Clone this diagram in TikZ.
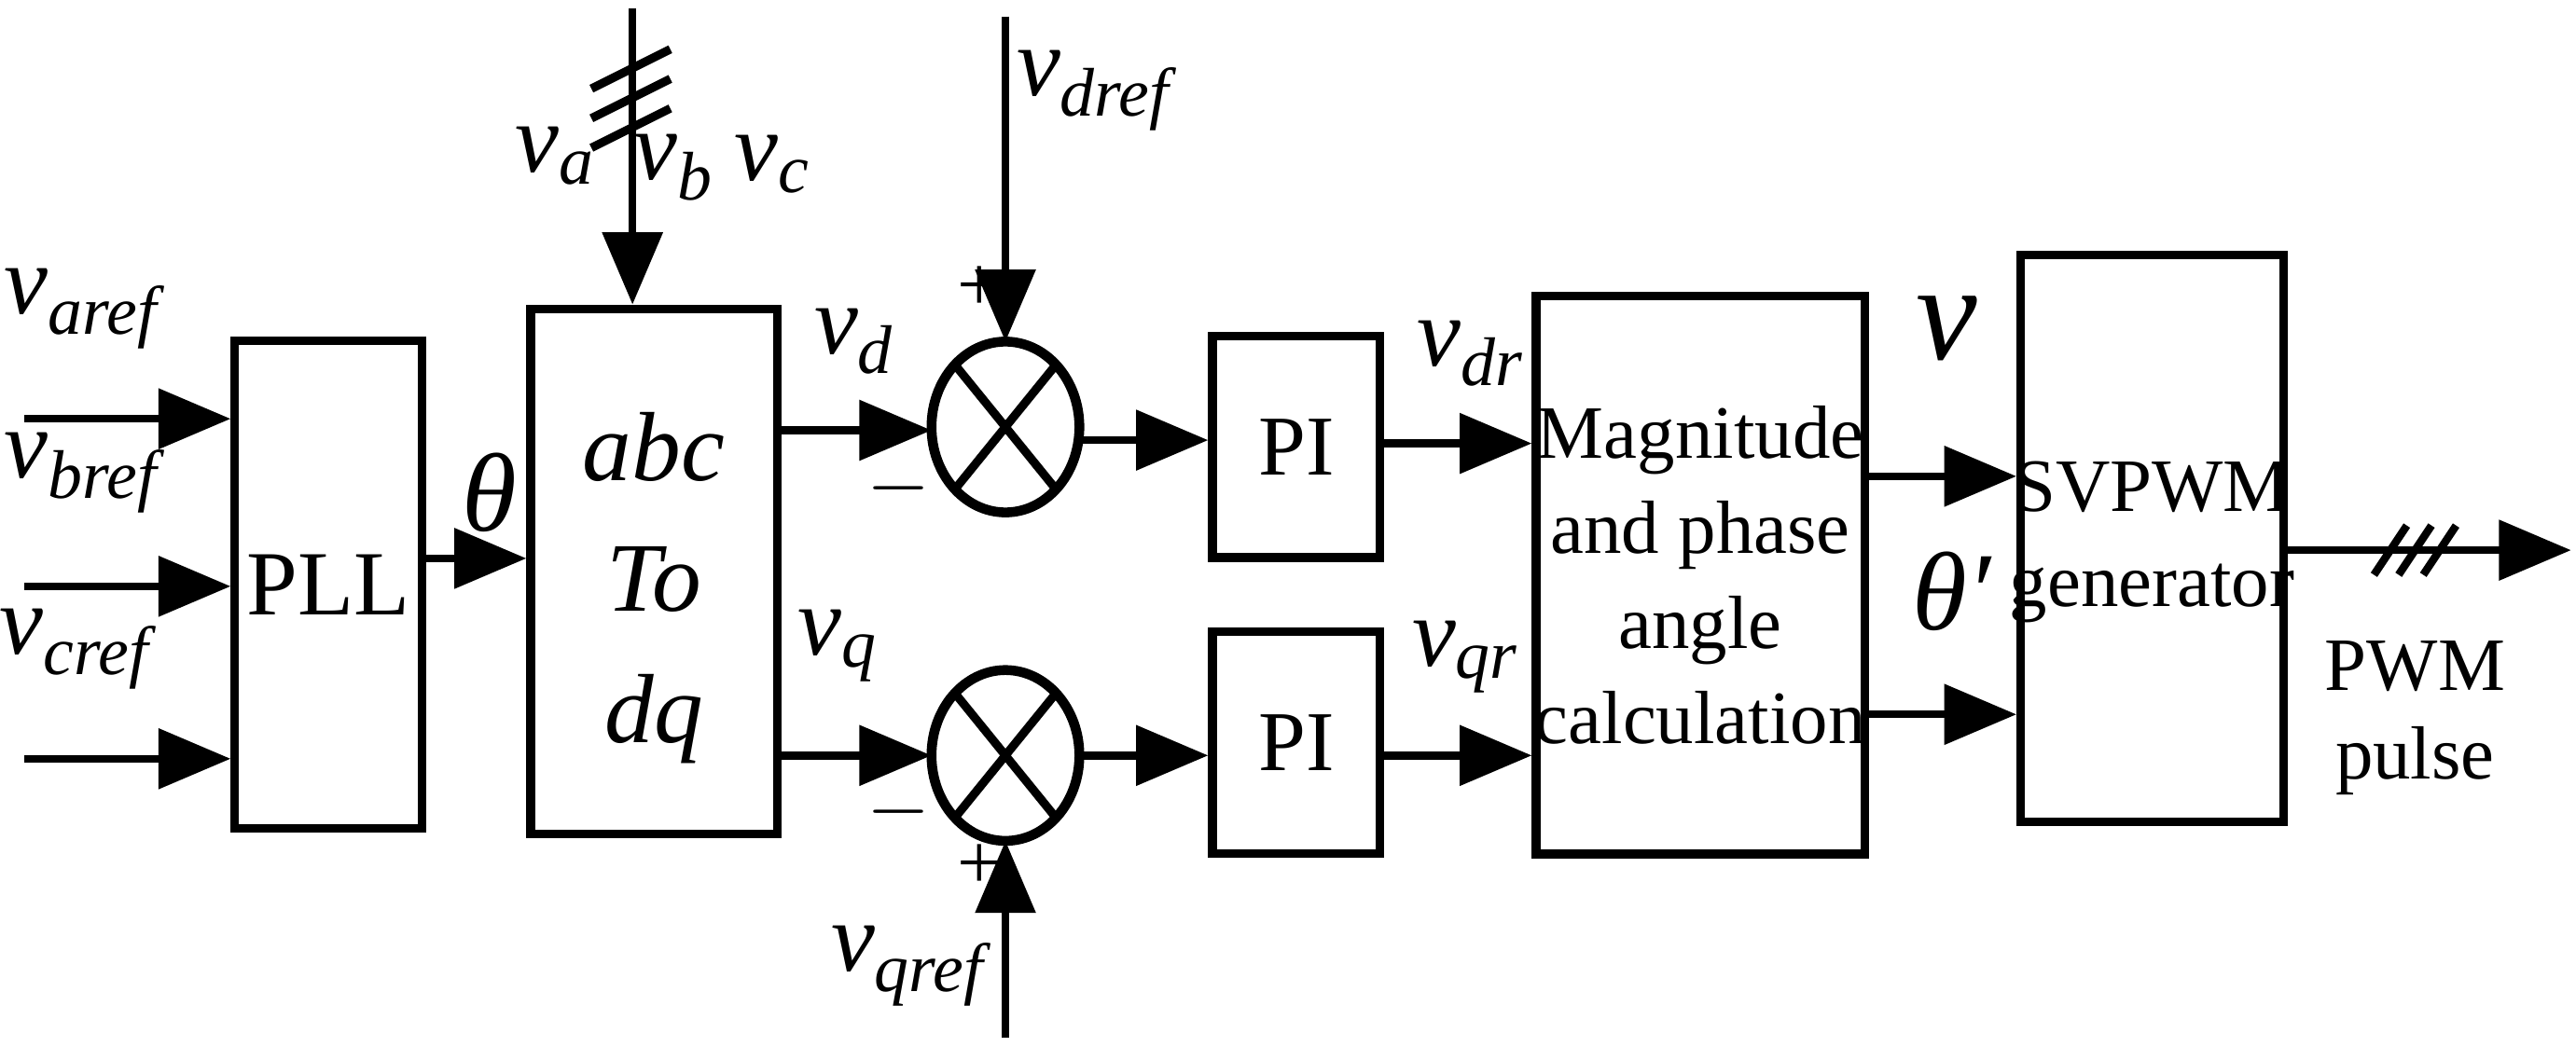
\documentclass[tikz,border=0pt]{standalone}
\usepackage{fontspec}
\setmainfont{Liberation Serif}
\newfontfamily\tms{Liberation Serif}
\usetikzlibrary{arrows.meta,calc}
\newcommand\vlab[1]{\textit{v}\textsubscript{\textit{#1}}}
\begin{document}
\begin{tikzpicture}[x=0.017615cm,y=-0.017615cm,
 every node/.style={font=\tms},
 box/.style={draw,line width=2.6pt,inner sep=0pt},
 arr/.style={line width=2.4pt,-{Triangle[length=22pt,width=18pt]}},
 lab/.style={font=\tms\fontsize{30}{30}\selectfont},
 pm/.style={font=\tms\fontsize{24}{24}\selectfont}]
\useasboundingbox (0,0) rectangle (1568,637);
% boxes
\node[box,minimum width=114*0.017615cm,minimum height=297*0.017615cm] (pll) at (200,356) {};
\node[font=\tms\fontsize{28}{28}\selectfont] at (200,356) {PLL};
\node[box,minimum width=150*0.017615cm,minimum height=320*0.017615cm] (abc) at (398,348) {};
\node[align=center,font=\tms\fontsize{30}{40}\selectfont\itshape] at (398,358) {abc\\To\\dq};
\draw[line width=3pt] (612,260) ellipse (45 and 52);
\draw[line width=3pt] (612,460) ellipse (45 and 52);
\node (s1) at (612,260) {};
\node (s2) at (612,460) {};
\draw[line width=2.6pt] ($(612,260)+(-30,-37)$) -- ($(612,260)+(30,37)$) ($(612,260)+(30,-37)$) -- ($(612,260)+(-30,37)$);
\draw[line width=2.6pt] ($(612,460)+(-30,-37)$) -- ($(612,460)+(30,37)$) ($(612,460)+(30,-37)$) -- ($(612,460)+(-30,37)$);
\node[box,minimum width=102*0.017615cm,minimum height=135*0.017615cm] (pi1) at (789,272) {};
\node[font=\tms\fontsize{26}{26}\selectfont] at (789,272) {PI};
\node[box,minimum width=102*0.017615cm,minimum height=135*0.017615cm] (pi2) at (789,452) {};
\node[font=\tms\fontsize{26}{26}\selectfont] at (789,452) {PI};
\node[box,minimum width=200*0.017615cm,minimum height=340*0.017615cm] (mag) at (1035,350) {};
\node[align=center,font=\tms\fontsize{23}{29}\selectfont] at (1035,350) {Magnitude\\and phase\\angle\\calculation};
\node[box,minimum width=160*0.017615cm,minimum height=345*0.017615cm] (sv) at (1310,328) {};
\node[align=center,font=\tms\fontsize{23}{29}\selectfont] at (1310,330) {SVPWM\\generator};
% inputs
\coordinate (ia) at (15,255); \coordinate (ib) at (15,357); \coordinate (ic) at (15,462);
\draw[arr] (ia) -- (ia -| pll.west);
\draw[arr] (ib) -- (ib -| pll.west);
\draw[arr] (ic) -- (ic -| pll.west);
\node[lab] at (52,188) {\vlab{aref}};
\node[lab] at (52,288) {\vlab{bref}};
\node[lab] at (48,395) {\vlab{cref}};
\draw[arr] (pll.east |- 0,340) -- (abc.west |- 0,340);
\node[font=\tms\fontsize{34}{34}\selectfont\itshape] at (298,300) {θ};
% top three-phase input
\coordinate (top) at (385,5);
\draw[arr] (top) -- (abc.north -| top);
\foreach \y in {42,60,78} \draw[line width=2.6pt] (360,\y+12) -- (408,\y-12);
\node[lab] at (338,95) {\vlab{a}};
\node[lab] at (410,102) {\vlab{b}};
\node[lab] at (470,100) {\vlab{c}};
% to summers
\draw[arr] (abc.east |- 0,262) -- (567,262);
\draw[arr] (abc.east |- 0,460) -- (567,460);
\node[lab] at (520,208) {\vlab{d}};
\node[lab] at (510,393) {\vlab{q}};
\node[pm] at (547,297) {$-$};
\node[pm] at (547,494) {$-$};
\coordinate (dr) at (612,10); \coordinate (qr) at (612,632);
\draw[arr] (dr) -- (612,208);
\draw[arr] (qr) -- (612,512);
\node[pm] at (596,176) {+};
\node[pm] at (596,528) {+};
\node[lab] at (668,55) {\vlab{dref}};
\node[lab] at (555,588) {\vlab{qref}};
% summers to PI
\draw[arr] (657,268) -- (pi1.west |- 0,268);
\draw[arr] (657,460) -- (pi2.west |- 0,460);
\draw[arr] (pi1.east |- 0,270) -- (mag.west |- 0,270);
\draw[arr] (pi2.east |- 0,460) -- (mag.west |- 0,460);
\node[lab] at (895,215) {\vlab{dr}};
\node[lab] at (892,400) {\vlab{qr}};
\draw[arr] (mag.east |- 0,290) -- (sv.west |- 0,290);
\draw[arr] (mag.east |- 0,435) -- (sv.west |- 0,435);
\node[font=\tms\fontsize{42}{42}\selectfont\itshape] at (1185,200) {v};
\node[font=\tms\fontsize{34}{34}\selectfont\itshape] at (1188,360) {θ′};
\coordinate (out) at (1565,335);
\draw[arr] (sv.east |- out) -- (out);
\foreach \x in {1455,1470,1485} \draw[line width=2.4pt] (\x-10,350) -- (\x+10,320);
\node[align=center,font=\tms\fontsize{23}{27}\selectfont] at (1470,437) {PWM\\pulse};
\end{tikzpicture}
\end{document}
